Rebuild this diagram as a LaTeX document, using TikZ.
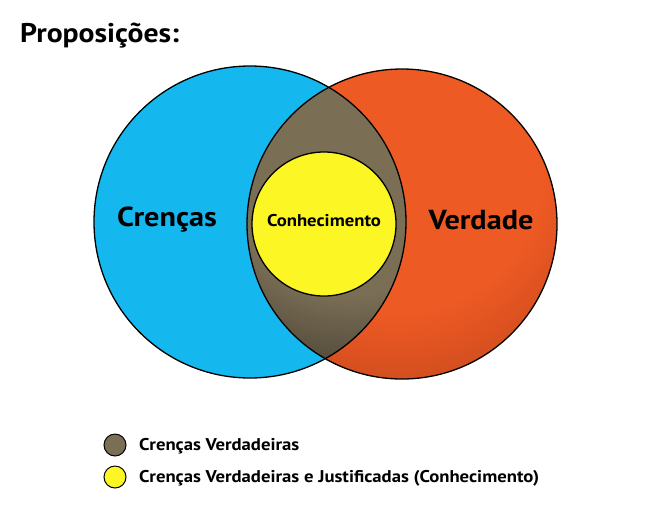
\documentclass[tikz,border=0pt]{standalone}
\usepackage{fontspec}
\setmainfont{PT Sans}[FakeStretch=1.1]
\definecolor{cblue}{HTML}{15B8EE}
\definecolor{corange}{HTML}{EE5A24}
\definecolor{corangedk}{HTML}{C8491C}
\definecolor{clens}{HTML}{7A6E55}
\definecolor{clensdk}{HTML}{4E4637}
\definecolor{cyellow}{HTML}{FCF624}
\pgfdeclareradialshading{orangerad}{\pgfpoint{0bp}{0bp}}{color(0bp)=(corange); color(15bp)=(corange); color(25bp)=(corangedk); color(50bp)=(corangedk)}
\pgfdeclareradialshading{lensrad}{\pgfpoint{0bp}{0bp}}{color(0bp)=(clens); color(15bp)=(clens); color(25bp)=(clensdk); color(50bp)=(clensdk)}
\begin{document}
\begin{tikzpicture}[x=1pt,y=-1pt,
  ring/.style={draw=black,line width=1.3pt},
  lbl/.style={font=\bfseries, inner sep=0pt},
  legdot/.style={circle, draw=black, line width=1pt, minimum size=22pt, inner sep=0pt},
  legtxt/.style={lbl, anchor=west, font=\bfseries\fontsize{17}{18}\selectfont}]
\useasboundingbox (0,0) rectangle (650,515);
% title
\node[lbl, anchor=base west, font=\bfseries\fontsize{27}{30}\selectfont] (title) at (20,42) {Proposições:};
% circles
\coordinate (cl) at (250,222);
\coordinate (cr) at (402,224);
\fill[cblue] (cl) circle (156);
\begin{scope}
  \clip (cr) circle (155);
  \shade[shading=orangerad] (395,165) circle (245);
\end{scope}
% lens
\begin{scope}
  \clip (cl) circle (156);
  \clip (cr) circle (155);
  \shade[shading=lensrad] (350,175) circle (200);
\end{scope}
\draw[ring] (cl) circle (156);
\draw[ring] (cr) circle (155);
\node[circle, ring, fill=cyellow, minimum size=144pt, inner sep=0pt] (conh) at (324,224) {};
\node[lbl, font=\bfseries\fontsize{17}{18}\selectfont] (conht) at (324,221) {Conhecimento};
\node[lbl, font=\bfseries\fontsize{27.5}{30}\selectfont] (cren) at (167,220) {Crenças};
\node[lbl, font=\bfseries\fontsize{27.5}{30}\selectfont] (verd) at (481,220) {Verdade};
% legend
\node[legdot, fill=clens] (lg1) at (115,445) {};
\node[legdot, fill=cyellow] (lg2) at (115,477) {};
\node[legtxt] (lt1) at (139,446) {Crenças Verdadeiras};
\node[legtxt] (lt2) at (139,478) {Crenças Verdadeiras e Justificadas (Conhecimento)};
\end{tikzpicture}
\end{document}
